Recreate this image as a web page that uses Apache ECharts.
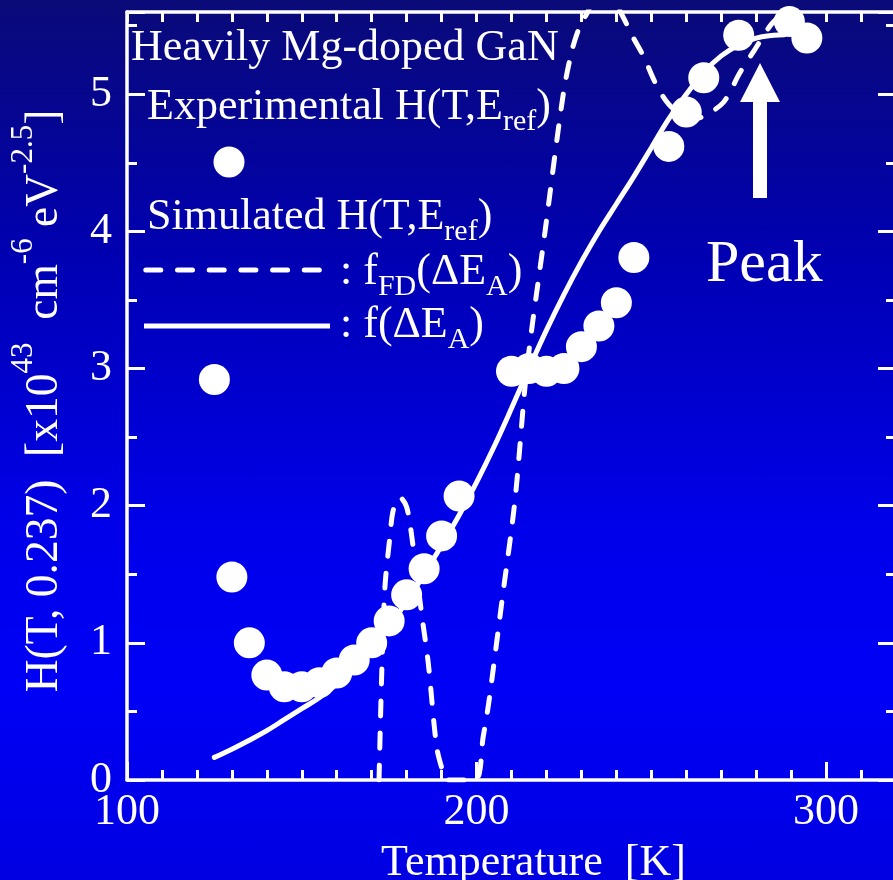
<!DOCTYPE html>
<html><head><meta charset="utf-8">
<script src="https://cdn.jsdelivr.net/npm/echarts@6/dist/echarts.min.js"></script>
<style>
html,body{margin:0;padding:0;}
#c{width:893px;height:880px;background:linear-gradient(to bottom,#0a0a78 0%,#0000b4 30%,#0000ea 60%,#0000f6 78%,#0000e2 100%);}
</style>
</head><body><div id="c"></div>
<script>
// Experimental H(T, E_ref) points
const expT = [125,130,135,140,145,150,155,160,165,170,175,180,185,190,195,210,215,220,225,230,235,240,245,255,260,265,275,289.5,294.5];
const expH = [2.92,1.48,1.00,0.765,0.68,0.68,0.71,0.78,0.875,1.00,1.16,1.35,1.54,1.78,2.07,2.98,3.00,2.98,3.00,3.16,3.31,3.48,3.81,4.62,4.87,5.12,5.43,5.53,5.41];
// Simulated f(dE_A) (solid)
const simT = [125,130,135,140,145,150,155,160,165,170,175,180,185,190,195,200,205,210,215,220,225,230,235,240,245,250,255,260,265,270,275,280,285,288];
const simH = [0.165,0.225,0.29,0.36,0.44,0.52,0.60,0.70,0.82,0.96,1.12,1.30,1.50,1.71,1.93,2.17,2.43,2.71,3.00,3.28,3.54,3.78,4.00,4.20,4.40,4.61,4.82,5.00,5.16,5.28,5.36,5.41,5.43,5.435];
// Simulated f_FD(dE_A) (dashed)
const fdT = [172.1,172.9,173.8,175.2,176.2,178.1,180.0,181.5,184.3,186.2,188.6,190.5,191.5,199.6,201.9,203.6,207.3,211.0,214.4,219.6,224.8,227.3,229.6,231.6,234,236.5,239,242.0,244.9,247.7,251.6,254.9,258.5,262,264.9,270.6,275.4,279.7,284.0,286.3,289];
const fdH = [0,0.80,1.41,1.77,1.97,2.06,1.99,1.77,1.21,0.85,0.24,0.05,0,0,0.315,0.583,1.311,2.04,3.0,4.0,5.0,5.32,5.50,5.59,5.72,5.78,5.70,5.56,5.41,5.28,5.06,4.93,4.85,4.82,4.84,4.94,5.16,5.33,5.50,5.57,5.75];
const xMajorTicks = [100,200,300];
const yMajorTicks = [0,1,2,3,4,5];

const F = 'Liberation Serif, Times New Roman, serif';
const W = '#ffffff';
const chart = echarts.init(document.getElementById('c'), null, {renderer:'canvas'});
const zip = (a,b)=>a.map((v,i)=>[v,b[i]]);
const lineW = 3.5, tickW = 3;
function xAx(pos, interval, len, showLine, labels){
  return {type:'value', position:pos, min:100, max:320, interval:interval,
    axisLine:{show:showLine, onZero:false, lineStyle:{color:W,width:lineW}},
    axisTick:{show:true, inside:true, length:len, lineStyle:{color:W,width:tickW}},
    axisLabel:{show:labels, color:W, fontFamily:F, fontSize:44, margin:10,
      formatter:v=>xMajorTicks.includes(v)?String(v):''},
    splitLine:{show:false}};
}
function yAx(pos, interval, len, showLine, labels){
  return {type:'value', position:pos, min:0, max:5.6, interval:interval,
    axisLine:{show:showLine, onZero:false, lineStyle:{color:W,width:lineW}},
    axisTick:{show:true, inside:true, length:len, lineStyle:{color:W,width:tickW}},
    axisLabel:{show:labels, color:W, fontFamily:F, fontSize:44, margin:15,
      formatter:v=>yMajorTicks.includes(v)?String(v):''},
    splitLine:{show:false}};
}
const xa0 = xAx('bottom',100,18,true,true);
xa0.name = 'Temperature  [K]';
xa0.nameLocation = 'middle';
xa0.nameGap = 43;
xa0.nameTextStyle = {color:W, fontFamily:F, fontSize:44, lineHeight:50, padding:[0,0,0,44]};
const ya0 = yAx('left',1,18,true,true);
ya0.name = '{a|H(T, 0.237)  [x10}{s|43}{a|  cm}{s|-6}{a| eV}{s|-2.5}{a|]}';
ya0.nameLocation = 'middle';
ya0.nameRotate = 90;
ya0.nameGap = 45;
ya0.nameTextStyle = {color:W, fontFamily:F, padding:[0,10,0,0], rich:{
  a:{fontSize:45.5, lineHeight:74, color:W, fontFamily:F},
  s:{fontSize:31, lineHeight:31, verticalAlign:'top', color:W, fontFamily:F}}};

const richLeg = {
  a:{fontSize:44, lineHeight:60, fill:W, fontFamily:F},
  b:{fontSize:30, lineHeight:30, verticalAlign:'bottom', fill:W, fontFamily:F}
};
function legText(x, baseline, txt){
  return {type:'text', x:x, y:baseline-44.8, z:100,
    style:{text:txt, rich:richLeg, fill:W, align:'left', verticalAlign:'top', font:'44px '+F}};
}

chart.setOption({
  animation:false,
  backgroundColor:'transparent',
  grid:{left:127, top:12, width:769, height:768, containLabel:false, outerBoundsMode:'none'},
  xAxis:[xa0, xAx('bottom',10,10,false,false), xAx('top',10,10,true,false)],
  yAxis:[ya0, yAx('left',0.5,10,false,false), yAx('right',1,18,true,false), yAx('right',0.5,10,false,false)],
  series:[
    {type:'line', name:'fFD', data:zip(fdT,fdH), showSymbol:false, symbol:'none', smooth:0.3, clip:true,
      lineStyle:{color:W, width:5, type:[15,17], cap:'round'}, z:2},
    {type:'line', name:'f', data:zip(simT,simH), showSymbol:false, symbol:'none', smooth:0.4, clip:true,
      lineStyle:{color:W, width:5, cap:'round'}, z:3},
    {type:'scatter', name:'exp', data:zip(expT,expH), symbol:'circle', symbolSize:31,
      itemStyle:{color:W, opacity:1}, z:4}
  ],
  graphic:[
    legText(131, 63, '{a|Heavily Mg-doped GaN}'),
    legText(147, 122, '{a|Experimental H(T,E}{b|ref}{a|)}'),
    {type:'circle', shape:{cx:229, cy:162, r:15.5}, style:{fill:W}, z:100},
    legText(147, 232, '{a|Simulated H(T,E}{b|ref}{a|)}'),
    {type:'line', shape:{x1:145.8, y1:270, x2:320, y2:270}, style:{stroke:W, lineWidth:5, lineDash:[15,16.7], lineCap:'round'}, z:100},
    legText(340, 287, '{a|: f}{b|FD}{a|(\u0394E}{b|A}{a|)}'),
    {type:'line', shape:{x1:144, y1:326, x2:330, y2:326}, style:{stroke:W, lineWidth:5}, z:100},
    legText(340, 340, '{a|: f(\u0394E}{b|A}{a|)}'),
    {type:'polygon', shape:{points:[[753,198],[767,198],[767,102],[780,102],[760,63],[740,102],[753,102]]}, style:{fill:W}, z:100},
    {type:'text', x:706, y:285-55.25, z:100, style:{text:'{p|Peak}', rich:{p:{fontSize:60, lineHeight:70, fill:W, fontFamily:F}}, fill:W, align:'left', verticalAlign:'top'}}
  ]
});
</script></body></html>
